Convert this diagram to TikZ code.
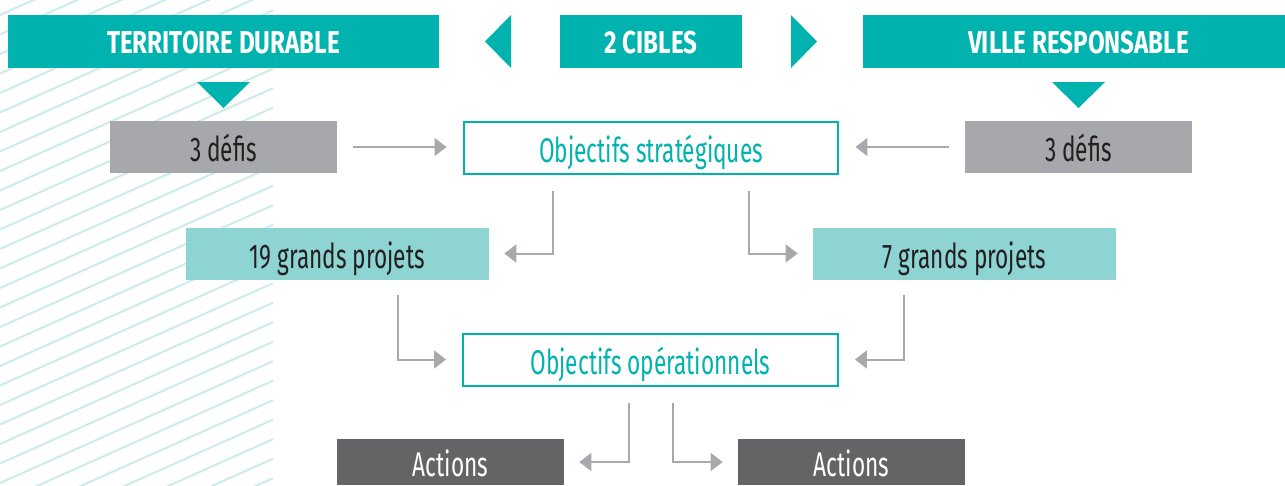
\documentclass[tikz,border=0pt]{standalone}
\usepackage{fontspec}
\setmainfont{Fira Sans}[FakeStretch=0.66, BoldFeatures={FakeStretch=0.765}]
\usetikzlibrary{arrows.meta, calc}

\definecolor{cibleteal}{HTML}{00B3AE}
\definecolor{projteal}{HTML}{8DD4D3}
\definecolor{defigrey}{HTML}{A7A8AB}
\definecolor{actgrey}{HTML}{636466}
\definecolor{arrowgrey}{HTML}{A7A9AC}
\definecolor{hatchteal}{HTML}{CDEBEB}
\definecolor{textdark}{HTML}{231F20}

\begin{document}
\begin{tikzpicture}[x=0.02cm, y=-0.02cm,
  cible/.style={fill=cibleteal, text=white, inner sep=0pt,
    font=\fontsize{18}{18}\selectfont\bfseries,
    minimum height=1.06cm, text height=14pt, text depth=0pt},
  box/.style={inner sep=0pt, font=\fontsize{19.5}{19.5}\selectfont,
    minimum height=1.04cm, text height=17pt, text depth=0pt},
  defi/.style={box, fill=defigrey, text=textdark, minimum width=4.54cm},
  objectif/.style={box, draw=cibleteal, line width=0.04cm, fill=white,
    text=cibleteal, minimum width=7.5cm},
  projet/.style={box, fill=projteal, text=textdark, minimum width=6.06cm},
  action/.style={box, fill=actgrey, text=white, minimum width=4.54cm,
    minimum height=0.92cm},
  pointer/.style={fill=cibleteal},
  arr/.style={draw=arrowgrey, line width=0.04cm,
    -{Triangle[length=0.24cm, width=0.36cm]}}]
\useasboundingbox (0,0) rectangle (1285,485);

%the stripes
\begin{scope}
  \clip (0,0) rectangle (273,485);
  \foreach \k in {0,...,31}
    \draw [hatchteal, line width=0.04cm] (0,15+19.5*\k) -- (273,15+19.5*\k-121.8);
\end{scope}

%the two targets
\node [cible, minimum width=8.62cm] (territoire) at (223.5,41.5) {TERRITOIRE DURABLE};
\node [cible, minimum width=3.64cm] (cibles) at (651,41.5) {2 CIBLES};
\node [cible, minimum width=8.62cm] (ville) at (1078.5,41.5) {VILLE RESPONSABLE};
\fill [pointer] (511,15) -- (511,68) -- (485,41.5) -- cycle;
\fill [pointer] (791,15) -- (791,68) -- (817,41.5) -- cycle;
\fill [pointer] (197,82) -- (250,82) -- (223.5,108) -- cycle;
\fill [pointer] (1052,82) -- (1105,82) -- (1078.5,108) -- cycle;

%the boxes
\node [defi] (defisL) at (223.5,147) {3 défis};
\node [defi] (defisR) at (1078.5,147) {3 défis};
\node [objectif] (strat) at (651,147.5) {Objectifs stratégiques};
\node [projet] (gp19) at (337.5,253.5) {19 grands projets};
\node [projet] (gp7) at (964.5,253.5) {7 grands projets};
\node [objectif] (ops) at (650.5,359.5) {Objectifs opérationnels};
\node [action] (actL) at (450.5,462) {Actions};
\node [action] (actR) at (851.5,462) {Actions};

%the arrows
\draw [arr, shorten <=0.32cm, shorten >=0.32cm] (defisL.east) -- (defisL.east -| strat.west);
\draw [arr, shorten <=0.32cm, shorten >=0.32cm] (defisR.west) -- (defisR.west -| strat.east);
\draw [arr, shorten >=0.3cm] ($(strat.south)+(-98,16)$) |- (gp19.east);
\draw [arr, shorten >=0.3cm] ($(strat.south)+(98,16)$) |- (gp7.west);
\draw [arr, shorten >=0.32cm] ($(gp19.south)+(60,15)$) |- (ops.west);
\draw [arr, shorten >=0.32cm] ($(gp7.south)+(-60.5,15)$) |- (ops.east);
\draw [arr, shorten >=0.3cm] ($(ops.south)+(-21.5,16)$) |- (actL.east);
\draw [arr, shorten >=0.3cm] ($(ops.south)+(22.5,16)$) |- (actR.west);
\end{tikzpicture}
\end{document}
